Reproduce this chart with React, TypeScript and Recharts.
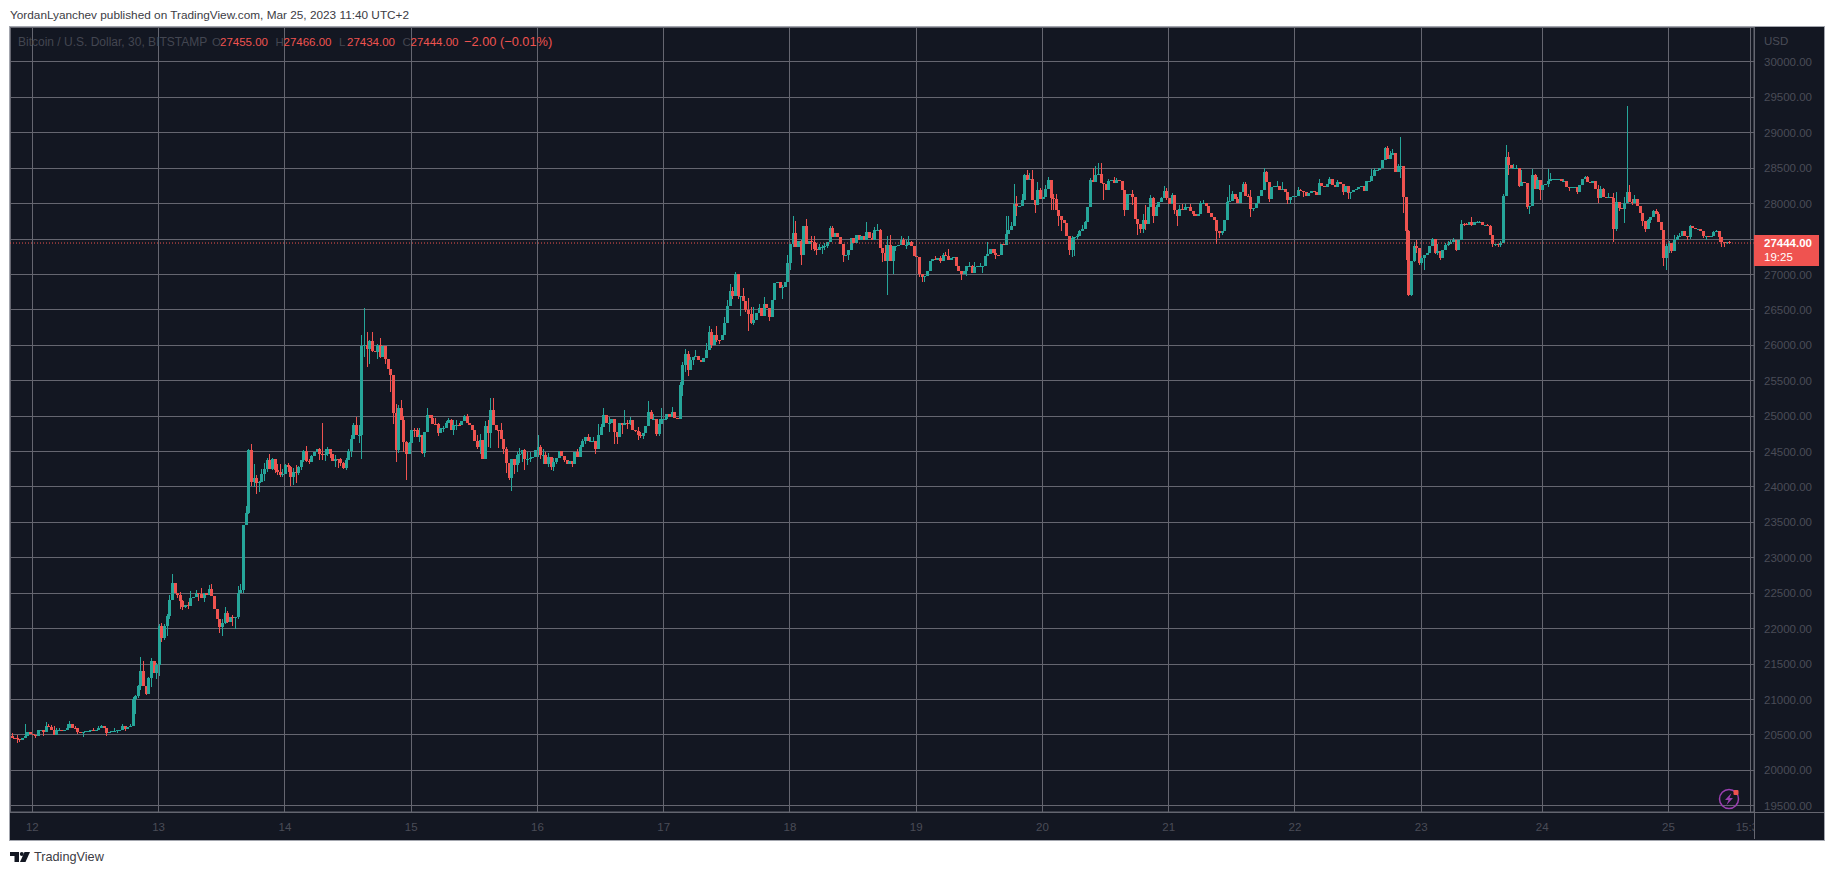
import { Bar, CartesianGrid, ComposedChart, ReferenceLine, XAxis, YAxis } from "recharts"

const UP = "#26a69a"
const DOWN = "#ef5350"
const PANEL = "#131722"
const FONT = "'Liberation Sans', Arial, sans-serif"

const firstOpen = 20480

// 30 minute closes (each candle opens at the previous close)
const closes = [
  20460, 20450, 20440, 20430, 20460, 20480, 20540, 20510, 20500, 20480,
  20575, 20575, 20540, 20620, 20610, 20575, 20505, 20565, 20565, 20560,
  20565, 20600, 20660, 20600, 20595, 20540, 20535, 20545, 20550, 20555,
  20565, 20550, 20565, 20600, 20620, 20600, 20530, 20540, 20555, 20560,
  20565, 20565, 20620, 20585, 20610, 20630, 21000, 21045, 21195, 21400,
  21195, 21080, 21300, 21540, 21380, 21490, 22040, 21870, 22040, 22180,
  22410, 22650, 22500, 22480, 22385, 22310, 22335, 22320, 22430, 22445,
  22500, 22490, 22430, 22500, 22480, 22560, 22455, 22270, 22135, 22020,
  22080, 22220, 22100, 22170, 22150, 22165, 22500, 22545, 23460, 23630,
  24520, 24070, 24120, 24060, 24070, 24190, 24250, 24380, 24250, 24400,
  24240, 24210, 24170, 24190, 24310, 24280, 24140, 24210, 24200, 24280,
  24380, 24510, 24370, 24350, 24440, 24500, 24540, 24470, 24450, 24470,
  24540, 24460, 24370, 24400, 24390, 24340, 24270, 24380, 24510, 24680,
  24870, 24740, 24740, 25985, 26000, 25950, 26060, 25915, 25900, 26000,
  25830, 25990, 25810, 25670, 25580, 25050, 24520, 25120, 24940, 24640,
  24470, 24620, 24810, 24800, 24700, 24740, 24480, 24780, 25010, 24970,
  24895, 24890, 24760, 24830, 24830, 24910, 24950, 24800, 24870, 24880,
  24870, 24930, 25000, 24900, 24870, 24800, 24650, 24565, 24660, 24400,
  24860, 24760, 25090, 24870, 24810, 24800, 24680, 24540, 24340, 24120,
  24400, 24310, 24450, 24470, 24520, 24390, 24390, 24415, 24425, 24520,
  24565, 24450, 24450, 24330, 24425, 24280, 24350, 24415, 24510, 24435,
  24380, 24330, 24370, 24320, 24495, 24425, 24560, 24650, 24705, 24650,
  24650, 24650, 24540, 24730, 24850, 25010, 24900, 24900, 24965, 24780,
  24700, 24900, 24870, 24900, 24885, 24940, 24810, 24790, 24740, 24715,
  24760, 24855, 25055, 24965, 24965, 24745, 24895, 24965, 24965, 25035,
  24990, 25055, 24980, 24960, 25435, 25720, 25880, 25650, 25790, 25835,
  25845, 25790, 25765, 25825, 25930, 26185, 26000, 26150, 26080, 26070,
  26140, 26310, 26560, 26770, 26700, 27000, 26700, 26700, 26630, 26500,
  26445, 26320, 26360, 26455, 26530, 26420, 26580, 26520, 26400, 26640,
  26880, 26890, 26815, 26820, 26890, 27160, 27430, 27585, 27385, 27470,
  27280, 27680, 27430, 27470, 27460, 27360, 27350, 27385, 27385, 27395,
  27455, 27660, 27535, 27590, 27535, 27425, 27270, 27280, 27340, 27515,
  27445, 27560, 27490, 27545, 27490, 27595, 27515, 27490, 27630, 27630,
  27375, 27300, 27195, 27420, 27185, 27395, 27405, 27420, 27490, 27420,
  27420, 27465, 27395, 27265, 27240, 27005, 26960, 26975, 27055, 27185,
  27220, 27210, 27230, 27185, 27280, 27255, 27200, 27230, 27245, 27125,
  27045, 27000, 27045, 27115, 27125, 27020, 27105, 27125, 27125, 27125,
  27265, 27290, 27360, 27300, 27280, 27270, 27435, 27410, 27575, 27630,
  27690, 28000, 27970, 27970, 28055, 28405, 28330, 28345, 28055, 27985,
  28195, 28065, 28100, 28205, 28335, 28080, 28070, 27915, 27820, 27765,
  27725, 27540, 27350, 27515, 27530, 27540, 27610, 27640, 27735, 27950,
  28335, 28300, 28405, 28415, 28290, 28280, 28195, 28325, 28335, 28290,
  28335, 28315, 28195, 27905, 28140, 28140, 28100, 27780, 27715, 27640,
  27770, 27710, 27950, 28080, 27830, 27950, 28030, 28080, 28185, 28080,
  28000, 28125, 27905, 27830, 27925, 27905, 27950, 27950, 27895, 27855,
  27830, 27855, 28010, 28015, 27960, 27875, 27810, 27765, 27620, 27585,
  27610, 27765, 28030, 28040, 28140, 28065, 28015, 28160, 28280, 28110,
  28100, 27930, 27935, 28015, 28110, 28195, 28440, 28300, 28070, 28235,
  28245, 28245, 28195, 28205, 28160, 28055, 28100, 28110, 28110, 28195,
  28180, 28160, 28110, 28150, 28185, 28170, 28125, 28290, 28250, 28240,
  28280, 28345, 28265, 28240, 28300, 28280, 28170, 28250, 28150, 28170,
  28195, 28205, 28235, 28245, 28180, 28315, 28315, 28395, 28480, 28480,
  28500, 28620, 28780, 28630, 28690, 28710, 28440, 28530, 28530, 28090,
  27620, 26705, 27185, 27405, 27370, 27160, 27230, 27280, 27300, 27395,
  27500, 27310, 27325, 27230, 27350, 27420, 27435, 27465, 27480, 27350,
  27490, 27715, 27710, 27700, 27735, 27700, 27735, 27735, 27735, 27700,
  27700, 27690, 27560, 27435, 27435, 27420, 27445, 28110, 28665, 28550,
  28500, 28500, 28500, 28250, 28310, 28290, 27950, 27960, 28405, 28205,
  28335, 28195, 28265, 28280, 28325, 28345, 28345, 28345, 28345, 28325,
  28325, 28240, 28230, 28240, 28240, 28170, 28265, 28345, 28375, 28300,
  28290, 28325, 28205, 28080, 28205, 28090, 28080, 28090, 28080, 27640,
  28030, 27935, 27925, 28015, 28170, 28030, 28010, 28065, 27960, 27875,
  27750, 27640, 27765, 27810, 27890, 27855, 27735, 27630, 27230, 27395,
  27445, 27325, 27490, 27530, 27545, 27610, 27540, 27530, 27690, 27655,
  27640, 27640, 27610, 27540, 27540, 27530, 27545, 27595, 27610, 27530,
  27465, 27455, 27455, 27444,
]

// [candle, price] pairs, only candles whose wick sticks out of the body
const upperWicks = [
  [0,20530],[2,20500],[5,20660],[13,20680],[14,20660],[15,20640],[16,20620],[17,20590],[18,20590],[21,20660],[22,20690],[24,20620],[31,20590],[33,20630],[34,20640],[36,20570],[39,20600],[42,20660],[43,20610],[45,20660],[46,21030],[47,21060],[48,21210],[49,21600],
  [50,21540],[52,21320],[53,21585],[54,21440],[55,21520],[56,22070],[57,22080],[58,22070],[59,22200],[60,22480],[61,22775],[62,22650],[64,22520],[65,22400],[67,22370],[68,22530],[70,22540],[72,22570],[75,22610],[76,22630],[77,22460],[80,22130],[81,22300],[82,22250],[84,22190],[86,22600],[87,22630],[89,23730],
  [90,24540],[91,24610],[92,24320],[93,24170],[94,24090],[95,24250],[96,24340],[97,24410],[98,24470],[99,24410],[100,24400],[101,24320],[102,24320],[103,24250],[104,24320],[105,24340],[106,24300],[107,24270],[108,24310],[109,24290],[110,24380],[111,24520],[112,24575],[113,24400],[114,24450],[116,24540],[117,24550],[118,24910],[119,24530],
  [120,24570],[121,24540],[122,24470],[123,24450],[125,24410],[126,24350],[127,24410],[128,24530],[129,24730],[130,24900],[131,24990],[132,24880],[133,26150],[134,26530],[135,26190],[136,26070],[137,26190],[139,26020],[140,26110],[142,25830],[144,25630],[145,25580],[146,25170],[147,25160],[148,25230],[149,25000],
  [150,24650],[151,24630],[153,24830],[154,24830],[155,24830],[158,25120],[159,25000],[160,25010],[161,24980],[162,24910],[164,24860],[165,24930],[166,24980],[167,24960],[168,24950],[169,24950],[170,24900],[172,25020],[173,25030],[177,24730],[178,24745],[180,24930],[181,24940],[182,25260],[183,25250],[186,24900],[188,24570],
  [192,24495],[193,24555],[195,24530],[196,24495],[197,24495],[200,24730],[201,24590],[202,24530],[203,24495],[204,24480],[206,24415],[215,24530],[216,24590],[217,24680],[219,24745],[220,24705],[221,24705],[223,24895],[224,24895],[225,25120],[227,24990],[233,25080],[234,24940],[235,24990],[238,24840],[239,24780],
  [242,25210],[243,25090],[244,25035],[246,24965],[247,25120],[251,25130],[254,25480],[255,25770],[256,25950],[257,25920],[258,25835],[260,25930],[264,26030],[265,26270],[266,26235],[268,26270],[271,26400],[272,26640],[273,26860],[274,26830],[275,27030],[278,26810],[280,26665],[281,26540],[282,26540],[284,26590],[286,26680],[293,26850],[295,27280],
  [297,27820],[298,27750],[300,27490],[302,27780],[304,27540],[305,27540],[306,27440],[307,27430],[308,27410],[309,27450],[311,27680],[312,27690],[325,27735],[327,27585],[328,27670],[329,27715],[330,27640],[332,27420],[333,27545],[334,27560],[335,27400],[338,27540],[339,27515],[340,27490],[341,27545],[342,27470],
  [351,27265],[353,27265],[354,27305],[355,27320],[356,27360],[364,27170],[365,27140],[366,27170],[368,27160],[371,27465],[374,27360],[378,27830],[379,27830],[380,27740],[381,28280],[382,28110],[384,28130],[385,28420],[386,28470],[387,28430],[388,28480],[390,28310],[391,28220],[393,28270],[394,28370],[396,28135],[397,28130],
  [401,27560],[403,27545],[405,27575],[406,27630],[407,27700],[408,27750],[410,28360],[411,28500],[412,28535],[413,28570],[414,28570],[417,28350],[419,28380],[420,28360],[426,28190],[430,27860],[431,27980],[433,28120],[434,28100],[435,27975],[437,28100],[438,28250],[439,28215],[441,28150],[444,27985],[445,27990],[446,28000],[448,27990],
  [452,28040],[453,28050],[458,27650],[462,28090],[463,28265],[464,28185],[466,28090],[468,28310],[469,28310],[470,28130],[471,28190],[476,28500],[477,28465],[481,28315],[483,28310],[489,28230],[490,28200],[497,28350],[501,28380],[504,28340],[517,28490],[518,28510],[522,28800],[523,28810],[524,28740],[525,28770],[527,28560],[528,28940],
  [531,27630],[533,27465],[534,27490],[536,27260],[540,27520],[541,27400],[542,27430],[545,27450],[546,27470],[547,27490],[548,27510],[551,27770],[552,27730],[553,27720],[555,27810],[557,27760],[558,27750],[561,27710],[562,27700],[566,27470],[567,28140],[568,28830],[569,28735],[571,28560],[572,28550],[574,28480],[576,28290],[578,28485],[579,28420],[580,28370],
  [584,28485],[585,28430],[590,28345],[598,28395],[599,28385],[603,28260],[604,28250],[605,28220],[607,28150],[609,28150],[610,28160],[613,28090],[614,29380],[615,28265],[616,28060],[617,28125],[621,27650],[622,27780],[624,27910],[625,27920],[626,27880],[629,27430],[630,27470],[632,27555],[633,27560],[634,27590],[636,27620],[638,27700],[639,27680],[643,27560],[647,27610],[648,27630],[653,27466],
]

const lowerWicks = [
  [2,20380],[3,20400],[9,20450],[12,20490],[25,20510],[27,20470],[30,20540],[36,20480],[40,20530],[43,20550],[47,20800],[48,21020],[49,21130],[51,21060],[53,21170],[55,21290],[56,21330],[57,21810],[58,21840],[59,21900],[60,22130],[61,22400],[63,22430],[64,22280],[65,22260],[66,22290],[67,22270],[68,22360],[71,22390],[73,22370],[79,21940],[80,21900],[81,22060],[82,22080],[84,22030],[85,21990],[86,22140],
  [88,22500],[90,23620],[91,24010],[92,24000],[93,23900],[94,23930],[96,24080],[97,24210],[99,24240],[100,24200],[101,24170],[102,24140],[103,24140],[105,24210],[106,24010],[107,24030],[108,24060],[109,24170],[110,24240],[111,24350],[112,24350],[113,24330],[117,24380],[118,24380],[119,24370],[120,24440],[121,24410],[122,24360],[123,24280],[124,24270],[125,24300],[126,24260],[127,24240],[128,24380],[129,24420],
  [130,24680],[131,24730],[132,24620],[133,24400],[134,25840],[135,25700],[136,25730],[137,25900],[139,25810],[140,25820],[142,25735],[144,25340],[145,24895],[146,24355],[147,24480],[149,24490],[150,24100],[151,24560],[153,24700],[155,24640],[156,24470],[157,24420],[162,24720],[163,24770],[164,24780],[168,24740],[169,24800],
  [177,24540],[178,24470],[181,24570],[182,24550],[185,24550],[187,24470],[188,24200],[189,24100],[190,23940],[191,24190],[192,24210],[193,24340],[194,24350],[195,24235],[196,24310],[197,24350],[200,24425],[201,24400],[202,24330],[203,24320],[204,24280],[205,24245],[206,24230],[207,24330],[210,24350],[213,24285],[218,24610],[220,24635],[222,24465],[223,24530],[227,24780],[229,24600],[230,24600],[232,24750],[234,24825],[235,24870],[237,24775],[238,24660],[239,24695],[240,24680],
  [245,24715],[246,24715],[249,24940],[255,25280],[256,25620],[257,25560],[259,25715],[265,25930],[266,25965],[268,26050],[269,26015],[274,26660],[276,26660],[277,26420],[279,26470],[280,26200],[281,26295],[282,26280],[288,26340],[293,26650],[296,27070],[297,27390],[300,27140],[304,27340],[305,27330],[306,27270],[308,27290],[309,27350],[310,27370],[316,27175],[318,27200],
  [331,27170],[332,27190],[333,26715],[335,27010],[336,27330],[340,27360],[345,26965],[346,26900],[347,26900],[353,27160],[361,26915],[363,26975],[369,27020],[374,27220],[378,27420],[382,27820],[384,27980],[389,27865],[395,27915],[396,27915],[397,27910],[398,27690],[399,27610],
  [402,27280],[403,27245],[404,27260],[405,27500],[415,28045],[416,28190],[423,27830],[426,27980],[428,27560],[429,27590],[430,27590],[431,27630],[434,27720],[439,28050],[442,27850],[443,27690],[449,27830],[458,27435],[459,27520],[460,27560],[471,27810],[472,27890],[478,28030],[485,28000],[486,27990],[491,28100],[506,28120],[508,28060],[509,28070],
  [528,28360],[529,27875],[530,27210],[531,26690],[532,26700],[533,27170],[534,27300],[535,27140],[536,27140],[537,27070],[541,27290],[542,27280],[543,27200],[546,27400],[549,27330],[552,27680],[555,27680],[563,27385],[564,27400],[565,27385],[566,27390],[569,28400],[573,28230],[576,27930],[577,27855],[581,28055],[584,28230],[592,28180],[595,28140],
  [603,28010],[609,27465],[610,27610],[611,27900],[613,27725],[616,27980],[620,27690],[621,27600],[623,27720],[628,27125],[629,27060],[630,27300],[631,27300],[637,27480],[638,27500],[643,27510],[644,27490],[649,27460],[650,27390],[651,27385],[652,27430],[653,27434],
]

const priceTicks = [
  19500, 20000, 20500, 21000, 21500, 22000, 22500, 23000, 23500, 24000, 24500,
  25000, 25500, 26000, 26500, 27000, 27500, 28000, 28500, 29000, 29500, 30000,
]
const timeSlots = [8, 56, 104, 152, 200, 248, 296, 344, 392, 440, 488, 536, 582, 630, 661]
const timeLabels = ["12", "13", "14", "15", "16", "17", "18", "19", "20", "21", "22", "23", "24", "25", "15:30"]
const totalSlots = 663
const lastPrice = 27444

const legendLabels = ["O", "H", "L", "C"]
const legendValues = ["27455.00", "27466.00", "27434.00", "27444.00"]
const legendChange = "−2.00 (−0.01%)"

const highMap = new Map(upperWicks.map(([i, p]) => [i, p]))
const lowMap = new Map(lowerWicks.map(([i, p]) => [i, p]))

const rows = Array.from({ length: totalSlots }, (_, slot) => {
  if (slot >= closes.length) return { slot }
  const close = closes[slot]
  const open = slot === 0 ? firstOpen : closes[slot - 1]
  const high = Math.max(open, close, highMap.get(slot) ?? 0)
  const low = Math.min(open, close, lowMap.get(slot) ?? Infinity)
  return { slot, open, close, high, low, range: [low, high] }
})

function Candle(props: any) {
  const { x, y, width, height, payload } = props
  if (payload?.close === undefined || !Number.isFinite(y) || !Number.isFinite(height)) return null
  const { open, close, high, low } = payload
  const color = close >= open ? UP : DOWN
  const perDollar = high > low ? height / (high - low) : 0
  const top = y + (high - Math.max(open, close)) * perDollar
  const bodyHeight = Math.max(1, Math.abs(open - close) * perDollar)
  const center = Math.round(x + width / 2)
  return (
    <g shapeRendering="crispEdges">
      <rect x={center} y={y} width={1} height={Math.max(1, height)} fill={color} />
      <rect x={center - 1} y={top} width={3} height={bodyHeight} fill={color} />
    </g>
  )
}

const axisTick = { fontSize: 11.5, fill: "#4a4c57", fontFamily: FONT }

export default function App() {
  return (
    <div style={{ position: "absolute", left: 0, top: 0, width: 1834, height: 875, background: "#fff", overflow: "hidden", fontFamily: FONT }}>
      <div style={{ position: "absolute", left: 10, top: 8, fontSize: 11.8, lineHeight: "14px", color: "#3c3c44", whiteSpace: "nowrap" }}>
        YordanLyanchev published on TradingView.com, Mar 25, 2023 11:40 UTC+2
      </div>

      <div style={{ position: "absolute", left: 9, top: 26, width: 1814, height: 813, background: PANEL, border: "1px solid #a3a6ae" }} />

      <div style={{ position: "absolute", left: 10, top: 27 }}>
        <ComposedChart width={1814} height={812} data={rows} margin={{ top: 0, right: 0, bottom: 0, left: 0 }} barCategoryGap={0}>
          <CartesianGrid stroke="#656670" strokeWidth={1} shapeRendering="crispEdges" />
          <XAxis
            dataKey="slot"
            ticks={timeSlots}
            interval={0}
            height={27}
            tick={axisTick}
            tickLine={false}
            axisLine={{ stroke: "#656670" }}
            tickMargin={5}
            tickFormatter={(s) => timeLabels[timeSlots.indexOf(s)] ?? ""}
          />
          <YAxis
            orientation="right"
            width={70}
            domain={[19411, 30494]}
            ticks={priceTicks}
            interval={0}
            allowDataOverflow
            tick={axisTick}
            tickLine={false}
            axisLine={{ stroke: "#656670" }}
            tickMargin={4}
            tickFormatter={(v) => v.toFixed(2)}
          />
          <ReferenceLine y={lastPrice} stroke={DOWN} strokeDasharray="1 2" />
          <Bar dataKey="range" shape={Candle} isAnimationActive={false} />
        </ComposedChart>
      </div>

      {/* corner cell under the price scale */}
      <div style={{ position: "absolute", left: 1754, top: 812, width: 69, height: 26, background: PANEL, borderLeft: "1px solid #656670", borderTop: "1px solid #656670" }} />

      {/* legend */}
      <div style={{ position: "absolute", left: 18, top: 35, fontSize: 12, lineHeight: "14px", color: "#434651", whiteSpace: "nowrap" }}>
        Bitcoin / U.S. Dollar, 30, BITSTAMP
      </div>
      {legendLabels.map((label, i) => (
        <div key={label} style={{ position: "absolute", left: 212 + i * 63.5, top: 35, fontSize: 11.5, lineHeight: "14px", whiteSpace: "nowrap", color: "#434651" }}>
          {label}
          <span style={{ position: "absolute", left: 8, color: DOWN }}>{legendValues[i]}</span>
        </div>
      ))}
      <div style={{ position: "absolute", left: 464, top: 35, fontSize: 12.8, lineHeight: "14px", color: DOWN, whiteSpace: "nowrap" }}>{legendChange}</div>

      <div style={{ position: "absolute", left: 1764, top: 34, fontSize: 11.5, lineHeight: "14px", color: "#4a4c57" }}>USD</div>

      {/* last price tag */}
      <div style={{ position: "absolute", left: 1754, top: 235, width: 65, height: 31, background: DOWN, color: "#fff", fontSize: 11.5, lineHeight: "14px" }}>
        <div style={{ position: "absolute", left: 10, top: 1, fontWeight: 700 }}>27444.00</div>
        <div style={{ position: "absolute", left: 10, top: 15, fontWeight: 400 }}>19:25</div>
      </div>

      {/* snapshot badge */}
      <svg style={{ position: "absolute", left: 1716, top: 786 }} width={26} height={26}>
        <circle cx={13} cy={13} r={9.5} fill="none" stroke="#9b3fb0" strokeWidth={1.5} />
        <path d="M15.5 7 L9 14 H12.5 L10.5 19 L17 12 H13.5 Z" fill="#9b3fb0" />
        <rect x={17.5} y={4} width={5} height={5} rx={1} fill={DOWN} />
      </svg>

      {/* footer logo */}
      <svg style={{ position: "absolute", left: 10, top: 852 }} width={20} height={10}>
        <path d="M0 0 H9 V10 H4.5 V4 H0 Z" fill="#131722" />
        <circle cx={11.8} cy={2} r={2} fill="#131722" />
        <path d="M14.5 0 H20 L15.5 10 H10 Z" fill="#131722" />
      </svg>
      <div style={{ position: "absolute", left: 34, top: 850, fontSize: 12.7, lineHeight: "15px", color: "#3c3c44" }}>TradingView</div>
    </div>
  )
}
